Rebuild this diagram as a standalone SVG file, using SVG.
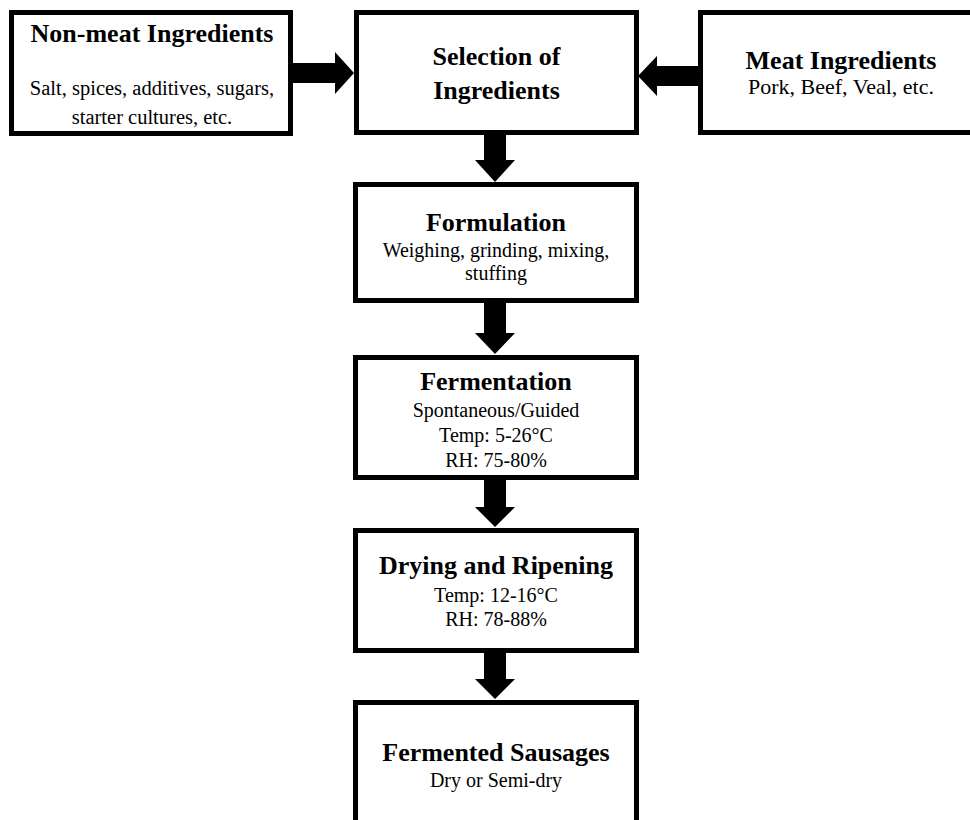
<svg xmlns="http://www.w3.org/2000/svg" width="970" height="820" viewBox="0 0 970 820">
<style>
.box{fill:#fff;stroke:#000;stroke-width:5}
text{font-family:"Liberation Serif","Times New Roman",serif;fill:#000;text-anchor:middle}
.t{font-size:26px;font-weight:bold}
.s{font-size:20px}
.arr{fill:#000;stroke:none}
</style>
<rect width="970" height="820" fill="#fff"/>
<g id="connectors">
<polygon class="arr" points="293,63 335,63 335,52 354,73 335,94 335,83 293,83"/>
<polygon class="arr" points="700,66 657,66 657,56 638,76 657,96 657,86 700,86"/>
<polygon class="arr" points="484,135 506,135 506,160 515,160 495,182 475,160 484,160"/>
<polygon class="arr" points="484,303 506,303 506,333 515,333 495,354 475,333 484,333"/>
<polygon class="arr" points="484,480 506,480 506,507 515,507 495,527 475,507 484,507"/>
<polygon class="arr" points="484,653 506,653 506,679 515,679 495,699 475,679 484,679"/>
</g>
<g id="nonmeat">
<rect class="box" x="11.5" y="12.5" width="279" height="121"/>
<text class="t" x="152" y="42">Non-meat Ingredients</text>
<text class="s" x="152" y="95" style="font-size:20.5px">Salt, spices, additives, sugars,</text>
<text class="s" x="152" y="124" style="font-size:20.5px">starter cultures, etc.</text>
</g>
<g id="selection">
<rect class="box" x="356.5" y="12.5" width="280" height="120"/>
<text class="t" x="496.5" y="65">Selection of</text>
<text class="t" x="496.5" y="99">Ingredients</text>
</g>
<g id="meat">
<rect class="box" x="700.5" y="12.5" width="280" height="120"/>
<text class="t" x="841" y="69">Meat Ingredients</text>
<text class="s" x="841" y="94" style="font-size:22px">Pork, Beef, Veal, etc.</text>
</g>
<g id="formulation">
<rect class="box" x="355.5" y="184.5" width="281" height="116"/>
<text class="t" x="496" y="231">Formulation</text>
<text class="s" x="496" y="257">Weighing, grinding, mixing,</text>
<text class="s" x="496" y="280">stuffing</text>
</g>
<g id="fermentation">
<rect class="box" x="355.5" y="357.5" width="281" height="120"/>
<text class="t" x="496" y="390">Fermentation</text>
<text class="s" x="496" y="417">Spontaneous/Guided</text>
<text class="s" x="496" y="442">Temp: 5-26°C</text>
<text class="s" x="496" y="467">RH: 75-80%</text>
</g>
<g id="drying">
<rect class="box" x="355.5" y="530.5" width="281" height="120"/>
<text class="t" x="496" y="574">Drying and Ripening</text>
<text class="s" x="496" y="602">Temp: 12-16°C</text>
<text class="s" x="496" y="626">RH: 78-88%</text>
</g>
<g id="sausages">
<rect class="box" x="355.5" y="702.5" width="281" height="140"/>
<text class="t" x="496" y="761">Fermented Sausages</text>
<text class="s" x="496" y="787">Dry or Semi-dry</text>
</g>
</svg>
